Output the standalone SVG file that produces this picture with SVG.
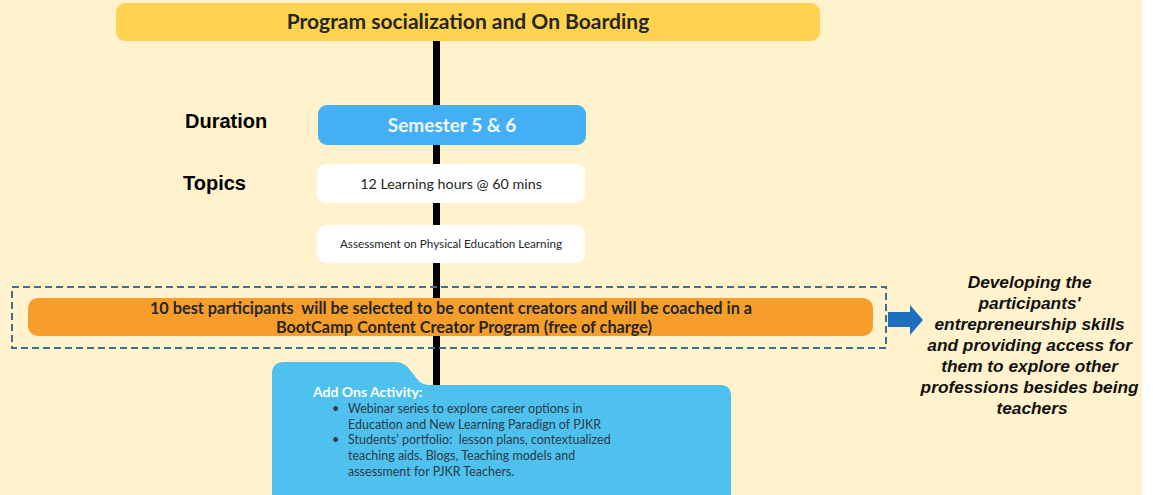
<svg xmlns="http://www.w3.org/2000/svg" width="1153" height="495" viewBox="0 0 1153 495">
<defs>
<style>
.cal{font-family:Lato,"Open Sans","Liberation Sans",sans-serif}
.ar{font-family:"Liberation Sans",Arial,sans-serif}
.dark{fill:#262626}
.pre{white-space:pre}
</style>
</defs>
<rect x="0" y="0" width="1153" height="495" fill="#ffffff"/>
<rect x="0" y="0" width="1142" height="495" fill="#FFF2CC"/>
<g id="connectors">
<line x1="436.5" y1="38" x2="436.5" y2="392" stroke="#000" stroke-width="7"/>
<polygon points="888,312 910,312 910,305 923,320 910,335 910,327 888,327" fill="#1F6FBF"/>
</g>
<g id="title">
<rect x="116" y="3" width="704" height="38" rx="9" fill="#FFD24F"/>
<text x="468" y="29" text-anchor="middle" class="cal dark" font-size="21" font-weight="bold">Program socialization and On Boarding</text>
</g>
<g id="label-duration"><text x="185" y="128" class="ar" font-size="20" font-weight="bold" fill="#000">Duration</text></g>
<g id="label-topics"><text x="183" y="190" class="ar" font-size="20" font-weight="bold" fill="#000">Topics</text></g>
<g id="semester">
<rect x="318" y="105" width="268" height="40" rx="9" fill="#45AFF6"/>
<text x="452" y="132" text-anchor="middle" class="cal" font-size="19" font-weight="bold" fill="#F2F8FF">Semester 5 &amp; 6</text>
</g>
<g id="hours">
<rect x="317" y="164" width="268" height="39" rx="9" fill="#ffffff"/>
<text x="451" y="189" text-anchor="middle" class="cal dark" font-size="14.3">12 Learning hours @ 60 mins</text>
</g>
<g id="assessment">
<rect x="317" y="225" width="268" height="38" rx="9" fill="#ffffff"/>
<text x="451" y="248" text-anchor="middle" class="cal dark" font-size="11.7">Assessment on Physical Education Learning</text>
</g>
<g id="bootcamp">
<rect x="12" y="287" width="874" height="61" fill="none" stroke="#3C6E8F" stroke-width="2" stroke-dasharray="7,4"/>
<rect x="28" y="298" width="845" height="38" rx="10" fill="#F79E2A"/>
<text x="451" y="314" text-anchor="middle" class="cal dark pre" font-size="16.3" font-weight="bold">10 best participants  will be selected to be content creators and will be coached in a</text>
<text x="464" y="333" text-anchor="middle" class="cal dark" font-size="16.3" font-weight="bold">BootCamp Content Creator Program (free of charge)</text>
</g>
<g id="outcome">
<text class="ar" font-size="17.3" font-weight="bold" font-style="italic" fill="#111" text-anchor="middle">
<tspan x="1032" y="288">Developing the</tspan>
<tspan x="1032" y="309">participants'</tspan>
<tspan x="1032" y="330">entrepreneurship skills</tspan>
<tspan x="1032" y="351">and providing access for</tspan>
<tspan x="1032" y="372">them to explore other</tspan>
<tspan x="1032" y="393">professions besides being</tspan>
<tspan x="1032" y="414">teachers</tspan>
</text>
</g>
<g id="addons">
<path d="M272,374 Q272,362 284,362 L396,362 Q404,362 410,370 L418,380 Q422,385 430,385 L720,385 Q731,385 731,396 L731,495 L272,495 Z" fill="#4FC1EF"/>
<text x="313" y="397" class="cal" font-size="14" font-weight="bold" fill="#ffffff">Add Ons Activity:</text>
<g class="cal" font-size="12.5" fill="#2B3A45">
<text x="332" y="413">•</text>
<text x="348" y="413">Webinar series to explore career options in</text>
<text x="348" y="429">Education and New Learning Paradign of PJKR</text>
<text x="332" y="444">•</text>
<text x="348" y="444" class="pre">Students’ portfolio:  lesson plans, contextualized</text>
<text x="348" y="460">teaching aids. Blogs, Teaching models and</text>
<text x="348" y="476">assessment for PJKR Teachers.</text>
</g>
</g>
</svg>
